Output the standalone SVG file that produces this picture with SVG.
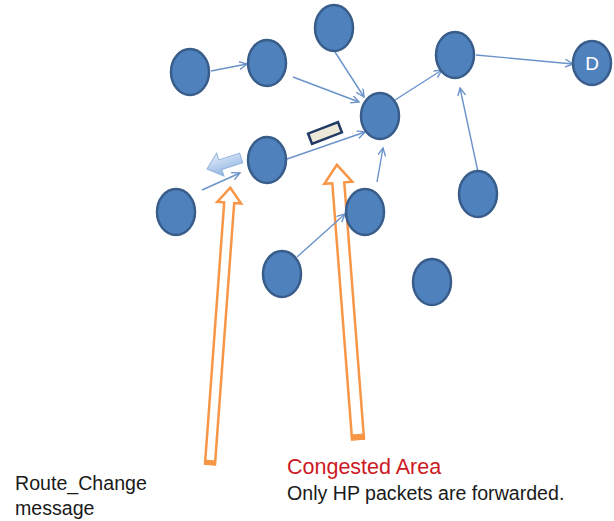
<svg xmlns="http://www.w3.org/2000/svg" width="614" height="521" viewBox="0 0 614 521">
<defs>
<style>
.node{fill:#4f81bd;stroke:#385d8a;stroke-width:2.5}
.edge{stroke:#6a93c9;stroke-width:1.4;fill:none;marker-end:url(#ah)}
.oarrow{fill:#fff;stroke:#f79646;stroke-width:2.5;stroke-linejoin:miter}
.lbl{font-family:"Liberation Sans",Arial,sans-serif;fill:#1a1a1a}
</style>
<marker id="ah" markerWidth="10" markerHeight="10" refX="8" refY="4" orient="auto" markerUnits="userSpaceOnUse">
<path d="M0,0 L8,4 L0,8" fill="none" stroke="#6a93c9" stroke-width="1.4"/>
</marker>
<linearGradient id="bg" x1="0" y1="0" x2="0" y2="1">
<stop offset="0" stop-color="#e3edf9"/>
<stop offset="1" stop-color="#8db3e2"/>
</linearGradient>
</defs>
<rect width="614" height="521" fill="#fff"/>

<g id="route-arrow">
<g transform="translate(210,464) rotate(4.2)">
<polygon class="oarrow" points="-5,0 -5,-262 -12,-262 0,-277 12,-262 5,-262 5,0"/>
<rect x="-6" y="-4" width="12" height="5" fill="#f79646"/>
</g>
</g>
<g id="congested-arrow">
<g transform="translate(358,439) rotate(-4.4)">
<polygon class="oarrow" points="-6,0 -6,-257 -14,-257 0,-275 14,-257 6,-257 6,0"/>
<rect x="-7" y="-5" width="14" height="6" fill="#f79646"/>
</g>
</g>

<g id="msg-arrow">
<polygon points="0,0 14,-12 14,-5 36,-5 36,5 14,5 14,12" transform="translate(207,169) rotate(-18)" fill="url(#bg)" stroke="#95b4dd" stroke-width="1"/>
</g>

<g id="packet">
<rect x="-16" y="-5.5" width="32" height="11" transform="translate(325,133) rotate(-21)" fill="#ece7d7" stroke="#1f3864" stroke-width="2.5"/>
</g>

<g id="connectors">
<line class="edge" x1="211" y1="71" x2="247" y2="64"/>
<line class="edge" x1="293" y1="77" x2="359" y2="102"/>
<line class="edge" x1="335" y1="52" x2="364" y2="97"/>
<line class="edge" x1="395" y1="100" x2="442" y2="70"/>
<line class="edge" x1="476" y1="55" x2="573" y2="64"/>
<line class="edge" x1="478" y1="172" x2="460" y2="88"/>
<line class="edge" x1="287" y1="159" x2="365" y2="132"/>
<line class="edge" x1="377" y1="182" x2="383" y2="148"/>
<line class="edge" x1="297" y1="257" x2="345" y2="214"/>
<line class="edge" x1="202" y1="190" x2="240" y2="173"/>
</g>

<g id="n1"><ellipse class="node" cx="190" cy="72" rx="19" ry="23"/></g>
<g id="n2"><ellipse class="node" cx="267" cy="63" rx="19" ry="23"/></g>
<g id="n3"><ellipse class="node" cx="334" cy="28" rx="19" ry="23"/></g>
<g id="n4"><ellipse class="node" cx="380" cy="116" rx="19" ry="23"/></g>
<g id="n5"><ellipse class="node" cx="267" cy="160" rx="19" ry="23"/></g>
<g id="n6"><ellipse class="node" cx="176" cy="212" rx="19" ry="23"/></g>
<g id="n7"><ellipse class="node" cx="365" cy="212" rx="19" ry="23"/></g>
<g id="n8"><ellipse class="node" cx="455" cy="55" rx="19" ry="23"/></g>
<g id="nD"><ellipse class="node" cx="592" cy="63" rx="19" ry="22"/><text x="592" y="70" text-anchor="middle" font-family="Liberation Sans,Arial,sans-serif" font-size="19" fill="#fff">D</text></g>
<g id="n10"><ellipse class="node" cx="478" cy="194" rx="19" ry="23"/></g>
<g id="n11"><ellipse class="node" cx="282" cy="274" rx="19" ry="23"/></g>
<g id="n12"><ellipse class="node" cx="432" cy="282" rx="19" ry="23"/></g>

<g id="labels">
<text class="lbl" x="15" y="490" font-size="19.6">Route_Change</text>
<text class="lbl" x="15" y="515" font-size="19.6">message</text>
<text x="287" y="474" font-family="Liberation Sans,Arial,sans-serif" font-size="21.5" fill="#cc1a24">Congested Area</text>
<text class="lbl" x="287" y="500" font-size="19.6">Only HP packets are forwarded.</text>
</g>
</svg>
